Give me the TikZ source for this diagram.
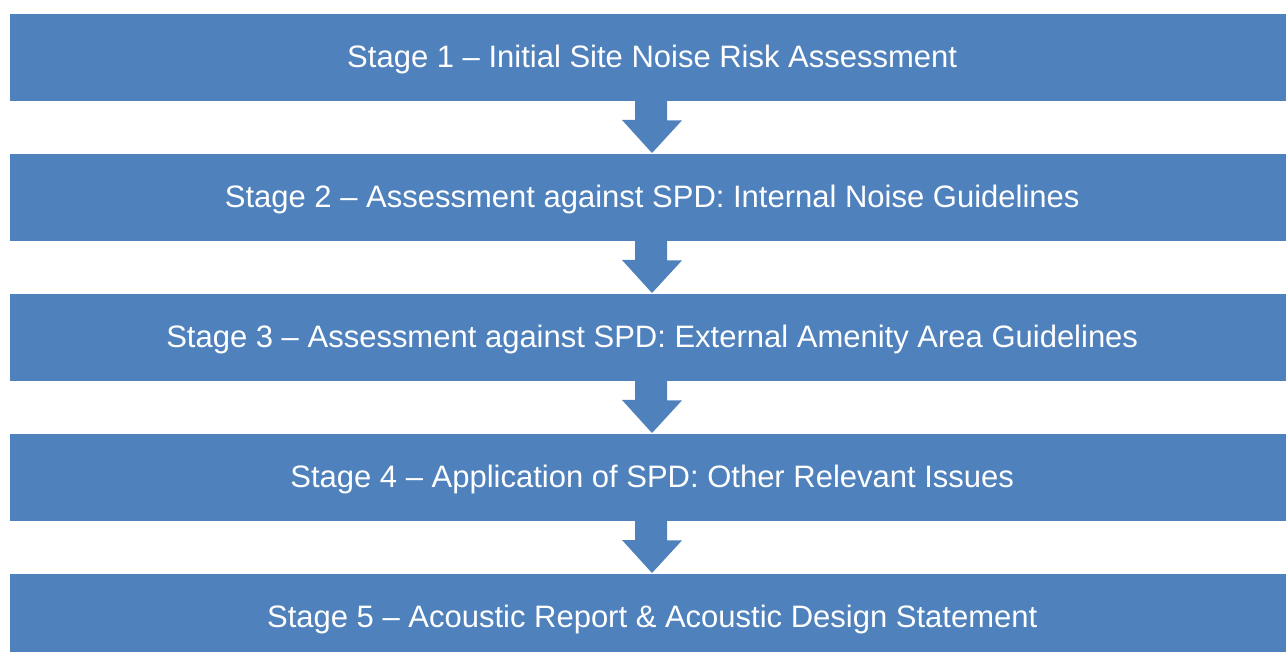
\documentclass[tikz,border=0pt]{standalone}
\usepackage{fontspec}
\setmainfont{Liberation Sans}
\definecolor{stageblue}{HTML}{4F81BD}
\begin{document}
\begin{tikzpicture}[x=1pt,y=-1pt,
  stagebox/.style={fill=stageblue,draw=none,minimum width=1276pt,minimum height=87pt,inner sep=0pt,anchor=north west},
  stagetext/.style={text=white,inner sep=0pt,font=\fontsize{31}{36}\selectfont},
  downarrow/.style={fill=stageblue,draw=none}]
\useasboundingbox (0,0) rectangle (1286,652);
\fill[white] (0,0) rectangle (1286,652);
\coordinate (axis) at (652,0);
\node[stagebox] (s1) at (10,14) {};
\node[stagebox] (s2) at (10,154) {};
\node[stagebox] (s3) at (10,294) {};
\node[stagebox] (s4) at (10,434) {};
\node[stagebox] (s5) at (10,574) {};
\foreach \a/\b in {s1/s2,s2/s3,s3/s4,s4/s5}{
  \fill[downarrow] ([xshift=-17pt,yshift=1pt]\a.south -| axis) -- ++(32,0) -- ++(0,20) -- ++(15,0)
     -- ([yshift=1pt]\b.north -| axis) -- ++(-30,-33) -- ++(13,0) -- cycle;
}
\node[stagetext] (t1) at ([xshift=4pt,yshift=-2pt]s1.center) {Stage 1 – Initial Site Noise Risk Assessment};
\node[stagetext] (t2) at ([xshift=4pt,yshift=-2pt]s2.center) {Stage 2 – Assessment against SPD: Internal Noise Guidelines};
\node[stagetext] (t3) at ([xshift=4pt,yshift=-2pt]s3.center) {Stage 3 – Assessment against SPD: External Amenity Area Guidelines};
\node[stagetext] (t4) at ([xshift=4pt,yshift=-2pt]s4.center) {Stage 4 – Application of SPD: Other Relevant Issues};
\node[stagetext] (t5) at ([xshift=4pt,yshift=-2pt]s5.center) {Stage 5 – Acoustic Report \& Acoustic Design Statement};
\end{tikzpicture}
\end{document}
